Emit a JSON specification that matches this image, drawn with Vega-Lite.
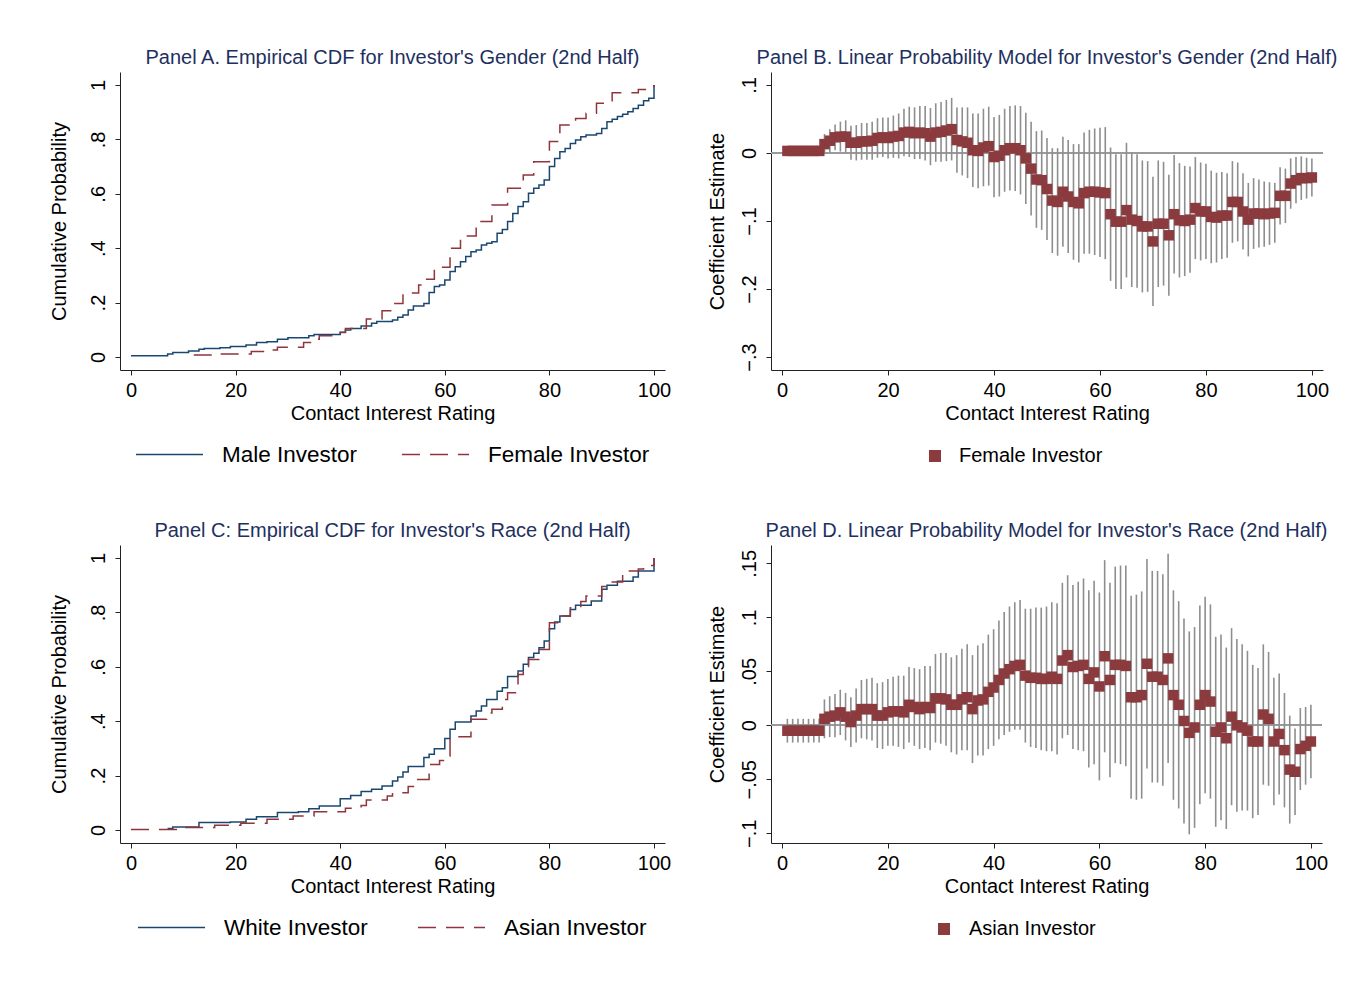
{
 "$schema": "https://vega.github.io/schema/vega-lite/v6.json",
 "background": "white",
 "padding": {"left": 48, "top": 48, "right": 5, "bottom": 5},
 "config": {
  "font": "Liberation Sans",
  "view": {"stroke": null},
  "axis": {"domainColor": "#222222", "tickColor": "#222222", "labelColor": "#000000", "titleColor": "#000000", "labelFontSize": 20, "titleFontSize": 20, "titleFontWeight": "normal", "grid": false, "tickSize": 5, "domainWidth": 1, "tickWidth": 1, "labelFont": "Liberation Sans", "titleFont": "Liberation Sans"},
  "title": {"fontSize": 20, "fontWeight": "normal", "color": "#1E3060", "font": "Liberation Sans", "anchor": "middle", "offset": 4},
  "legend": {"labelFontSize": 20, "labelColor": "#000000", "padding": 0, "labelFont": "Liberation Sans", "labelLimit": 0}
 },
 "bounds": "flush",
 "spacing": {"row": 175, "column": 106},
 "columns": 2,
 "resolve": {"scale": {"color": "independent", "strokeDash": "independent"}, "legend": {"color": "independent", "strokeDash": "independent"}},
 "concat": [
  {
   "width": 545, "height": 298,
   "title": {"text": "Panel A. Empirical CDF for Investor's Gender (2nd Half)"},
   "data": {"name": "cdfA"},
   "mark": {"type": "line", "interpolate": "step-after", "strokeWidth": 1.5},
   "encoding": {
    "x": {"field": "x", "type": "quantitative", "scale": {"domain": [-2.1, 102.1], "nice": false, "zero": false}, "axis": {"values": [0, 20, 40, 60, 80, 100], "title": "Contact Interest Rating", "labelPadding": 5, "titlePadding": 3}},
    "y": {"field": "p", "type": "quantitative", "scale": {"domain": [-0.048, 1.048], "nice": false, "zero": false}, "axis": {"values": [0, 0.2, 0.4, 0.6, 0.8, 1], "labelExpr": "replace(format(datum.value, '.2~f'), '0.', '.')", "labelAngle": 270, "labelAlign": "center", "labelBaseline": "bottom", "labelPadding": 7, "title": "Cumulative Probability", "titlePadding": 19}},
    "color": {"field": "g", "type": "nominal", "scale": {"domain": ["Male Investor", "Female Investor"], "range": ["#1A476F", "#90353B"]}, "legend": {"orient": "none", "legendX": 15, "legendY": 348, "direction": "horizontal", "title": null, "symbolType": "stroke", "symbolSize": 4489, "symbolStrokeWidth": 1.5, "labelFontSize": 22.5, "labelOffset": 18, "columnPadding": 41}},
    "strokeDash": {"field": "g", "type": "nominal", "scale": {"domain": ["Male Investor", "Female Investor"], "range": [[1, 0], [18, 10]]}, "legend": {"orient": "none", "legendX": 15, "legendY": 348, "direction": "horizontal", "title": null, "symbolType": "stroke", "symbolSize": 4489, "symbolStrokeWidth": 1.5, "labelFontSize": 22.5, "labelOffset": 18, "columnPadding": 41}}
   }
  },
  {
   "width": 552, "height": 298,
   "title": {"text": "Panel B. Linear Probability Model for Investor's Gender (2nd Half)"},
   "data": {"name": "lpmB"},
   "encoding": {
    "x": {"field": "x", "type": "quantitative", "scale": {"domain": [-2.1, 102.1], "nice": false, "zero": false}, "axis": {"values": [0, 20, 40, 60, 80, 100], "title": "Contact Interest Rating", "labelPadding": 5, "titlePadding": 3}}
   },
   "layer": [
    {"mark": {"type": "rule", "color": "#9A9A9A", "strokeWidth": 1.5},
     "encoding": {"y": {"datum": 0, "type": "quantitative", "scale": {"domain": [-0.319, 0.119], "nice": false, "zero": false}, "axis": {"values": [-0.3, -0.2, -0.1, 0, 0.1], "labelExpr": "replace(format(datum.value, '.2~f'), '0.', '.')", "labelAngle": 270, "labelAlign": "center", "labelBaseline": "bottom", "labelPadding": 7, "title": "Coefficient Estimate", "titlePadding": 12}}, "x": {"value": 0}, "x2": {"value": 552}}},
    {"mark": {"type": "rule", "color": "#8E8E8E", "strokeWidth": 1.6},
     "encoding": {"y": {"field": "lo", "type": "quantitative", "scale": {"domain": [-0.319, 0.119], "nice": false, "zero": false}, "axis": {"values": [-0.3, -0.2, -0.1, 0, 0.1], "labelExpr": "replace(format(datum.value, '.2~f'), '0.', '.')", "labelAngle": 270, "labelAlign": "center", "labelBaseline": "bottom", "labelPadding": 7, "title": "Coefficient Estimate", "titlePadding": 12}}, "y2": {"field": "hi"}}},
    {"mark": {"type": "point", "shape": "square", "filled": true, "size": 110, "opacity": 1},
     "encoding": {"y": {"field": "c", "type": "quantitative", "scale": {"domain": [-0.319, 0.119], "nice": false, "zero": false}, "axis": {"values": [-0.3, -0.2, -0.1, 0, 0.1], "labelExpr": "replace(format(datum.value, '.2~f'), '0.', '.')", "labelAngle": 270, "labelAlign": "center", "labelBaseline": "bottom", "labelPadding": 7, "title": "Coefficient Estimate", "titlePadding": 12}},
      "color": {"datum": "Female Investor", "type": "nominal", "scale": {"range": ["#8B3A3E"]}, "legend": {"orient": "none", "legendX": 154, "legendY": 374, "direction": "horizontal", "title": null, "symbolType": "square", "symbolSize": 144, "symbolOpacity": 1, "labelFontSize": 20, "labelOffset": 14}}}}
   ]
  },
  {
   "width": 545, "height": 298,
   "title": {"text": "Panel C: Empirical CDF for Investor's Race (2nd Half)"},
   "data": {"name": "cdfC"},
   "mark": {"type": "line", "interpolate": "step-after", "strokeWidth": 1.5},
   "encoding": {
    "x": {"field": "x", "type": "quantitative", "scale": {"domain": [-2.1, 102.1], "nice": false, "zero": false}, "axis": {"values": [0, 20, 40, 60, 80, 100], "title": "Contact Interest Rating", "labelPadding": 5, "titlePadding": 3}},
    "y": {"field": "p", "type": "quantitative", "scale": {"domain": [-0.048, 1.048], "nice": false, "zero": false}, "axis": {"values": [0, 0.2, 0.4, 0.6, 0.8, 1], "labelExpr": "replace(format(datum.value, '.2~f'), '0.', '.')", "labelAngle": 270, "labelAlign": "center", "labelBaseline": "bottom", "labelPadding": 7, "title": "Cumulative Probability", "titlePadding": 19}},
    "color": {"field": "g", "type": "nominal", "scale": {"domain": ["White Investor", "Asian Investor"], "range": ["#1A476F", "#90353B"]}, "legend": {"orient": "none", "legendX": 17, "legendY": 348, "direction": "horizontal", "title": null, "symbolType": "stroke", "symbolSize": 4489, "symbolStrokeWidth": 1.5, "labelFontSize": 22.5, "labelOffset": 18, "columnPadding": 47}},
    "strokeDash": {"field": "g", "type": "nominal", "scale": {"domain": ["White Investor", "Asian Investor"], "range": [[1, 0], [18, 10]]}, "legend": {"orient": "none", "legendX": 17, "legendY": 348, "direction": "horizontal", "title": null, "symbolType": "stroke", "symbolSize": 4489, "symbolStrokeWidth": 1.5, "labelFontSize": 22.5, "labelOffset": 18, "columnPadding": 47}}
   }
  },
  {
   "width": 551, "height": 298,
   "title": {"text": "Panel D. Linear Probability Model for Investor's Race (2nd Half)"},
   "data": {"name": "lpmD"},
   "encoding": {
    "x": {"field": "x", "type": "quantitative", "scale": {"domain": [-2.1, 102.1], "nice": false, "zero": false}, "axis": {"values": [0, 20, 40, 60, 80, 100], "title": "Contact Interest Rating", "labelPadding": 5, "titlePadding": 3}}
   },
   "layer": [
    {"mark": {"type": "rule", "color": "#9A9A9A", "strokeWidth": 1.5},
     "encoding": {"y": {"datum": 0, "type": "quantitative", "scale": {"domain": [-0.109, 0.167], "nice": false, "zero": false}, "axis": {"values": [-0.1, -0.05, 0, 0.05, 0.1, 0.15], "labelExpr": "replace(format(datum.value, '.2~f'), '0.', '.')", "labelAngle": 270, "labelAlign": "center", "labelBaseline": "bottom", "labelPadding": 7, "title": "Coefficient Estimate", "titlePadding": 12}}, "x": {"value": 0}, "x2": {"value": 551}}},
    {"mark": {"type": "rule", "color": "#8E8E8E", "strokeWidth": 1.6},
     "encoding": {"y": {"field": "lo", "type": "quantitative", "scale": {"domain": [-0.109, 0.167], "nice": false, "zero": false}, "axis": {"values": [-0.1, -0.05, 0, 0.05, 0.1, 0.15], "labelExpr": "replace(format(datum.value, '.2~f'), '0.', '.')", "labelAngle": 270, "labelAlign": "center", "labelBaseline": "bottom", "labelPadding": 7, "title": "Coefficient Estimate", "titlePadding": 12}}, "y2": {"field": "hi"}}},
    {"mark": {"type": "point", "shape": "square", "filled": true, "size": 110, "opacity": 1},
     "encoding": {"y": {"field": "c", "type": "quantitative", "scale": {"domain": [-0.109, 0.167], "nice": false, "zero": false}, "axis": {"values": [-0.1, -0.05, 0, 0.05, 0.1, 0.15], "labelExpr": "replace(format(datum.value, '.2~f'), '0.', '.')", "labelAngle": 270, "labelAlign": "center", "labelBaseline": "bottom", "labelPadding": 7, "title": "Coefficient Estimate", "titlePadding": 12}},
      "color": {"datum": "Asian Investor", "type": "nominal", "scale": {"range": ["#8B3A3E"]}, "legend": {"orient": "none", "legendX": 163, "legendY": 374, "direction": "horizontal", "title": null, "symbolType": "square", "symbolSize": 144, "symbolOpacity": 1, "labelFontSize": 20, "labelOffset": 15}}}}
   ]
  }
 ],
 "datasets": {
  "cdfA": [
   {"x": 0, "p": 0.004, "g": "Male Investor"}, {"x": 7, "p": 0.011, "g": "Male Investor"}, {"x": 8, "p": 0.016, "g": "Male Investor"}, {"x": 11, "p": 0.022, "g": "Male Investor"}, {"x": 13, "p": 0.028, "g": "Male Investor"}, {"x": 14, "p": 0.031, "g": "Male Investor"}, {"x": 17, "p": 0.034, "g": "Male Investor"}, {"x": 19, "p": 0.038, "g": "Male Investor"}, {"x": 22, "p": 0.044, "g": "Male Investor"}, {"x": 24, "p": 0.053, "g": "Male Investor"}, {"x": 26, "p": 0.056, "g": "Male Investor"}, {"x": 28, "p": 0.065, "g": "Male Investor"}, {"x": 30, "p": 0.071, "g": "Male Investor"}, {"x": 34, "p": 0.078, "g": "Male Investor"}, {"x": 35, "p": 0.083, "g": "Male Investor"}, {"x": 40, "p": 0.091, "g": "Male Investor"}, {"x": 41, "p": 0.099, "g": "Male Investor"}, {"x": 42, "p": 0.105, "g": "Male Investor"}, {"x": 44, "p": 0.114, "g": "Male Investor"}, {"x": 46, "p": 0.124, "g": "Male Investor"}, {"x": 47, "p": 0.13, "g": "Male Investor"}, {"x": 50, "p": 0.136, "g": "Male Investor"}, {"x": 51, "p": 0.146, "g": "Male Investor"}, {"x": 52, "p": 0.154, "g": "Male Investor"}, {"x": 53, "p": 0.173, "g": "Male Investor"}, {"x": 54, "p": 0.187, "g": "Male Investor"}, {"x": 56, "p": 0.197, "g": "Male Investor"}, {"x": 57, "p": 0.237, "g": "Male Investor"}, {"x": 58, "p": 0.259, "g": "Male Investor"}, {"x": 59, "p": 0.265, "g": "Male Investor"}, {"x": 60, "p": 0.283, "g": "Male Investor"}, {"x": 61, "p": 0.314, "g": "Male Investor"}, {"x": 62, "p": 0.332, "g": "Male Investor"}, {"x": 63, "p": 0.35, "g": "Male Investor"}, {"x": 64, "p": 0.369, "g": "Male Investor"}, {"x": 65, "p": 0.387, "g": "Male Investor"}, {"x": 66, "p": 0.393, "g": "Male Investor"}, {"x": 67, "p": 0.412, "g": "Male Investor"}, {"x": 68, "p": 0.418, "g": "Male Investor"}, {"x": 69, "p": 0.424, "g": "Male Investor"}, {"x": 70, "p": 0.455, "g": "Male Investor"}, {"x": 71, "p": 0.469, "g": "Male Investor"}, {"x": 72, "p": 0.498, "g": "Male Investor"}, {"x": 73, "p": 0.528, "g": "Male Investor"}, {"x": 74, "p": 0.553, "g": "Male Investor"}, {"x": 75, "p": 0.571, "g": "Male Investor"}, {"x": 76, "p": 0.602, "g": "Male Investor"}, {"x": 77, "p": 0.62, "g": "Male Investor"}, {"x": 78, "p": 0.632, "g": "Male Investor"}, {"x": 79, "p": 0.651, "g": "Male Investor"}, {"x": 80, "p": 0.7, "g": "Male Investor"}, {"x": 81, "p": 0.73, "g": "Male Investor"}, {"x": 82, "p": 0.755, "g": "Male Investor"}, {"x": 83, "p": 0.767, "g": "Male Investor"}, {"x": 84, "p": 0.785, "g": "Male Investor"}, {"x": 85, "p": 0.798, "g": "Male Investor"}, {"x": 86, "p": 0.81, "g": "Male Investor"}, {"x": 87, "p": 0.816, "g": "Male Investor"}, {"x": 89, "p": 0.822, "g": "Male Investor"}, {"x": 90, "p": 0.84, "g": "Male Investor"}, {"x": 91, "p": 0.865, "g": "Male Investor"}, {"x": 92, "p": 0.874, "g": "Male Investor"}, {"x": 93, "p": 0.884, "g": "Male Investor"}, {"x": 94, "p": 0.893, "g": "Male Investor"}, {"x": 95, "p": 0.902, "g": "Male Investor"}, {"x": 96, "p": 0.914, "g": "Male Investor"}, {"x": 97, "p": 0.926, "g": "Male Investor"}, {"x": 98, "p": 0.942, "g": "Male Investor"}, {"x": 99, "p": 0.951, "g": "Male Investor"}, {"x": 100, "p": 1.0, "g": "Male Investor"},
   {"x": 12, "p": 0.007, "g": "Female Investor"}, {"x": 17, "p": 0.011, "g": "Female Investor"}, {"x": 23, "p": 0.02, "g": "Female Investor"}, {"x": 26, "p": 0.026, "g": "Female Investor"}, {"x": 28, "p": 0.036, "g": "Female Investor"}, {"x": 33, "p": 0.053, "g": "Female Investor"}, {"x": 35, "p": 0.065, "g": "Female Investor"}, {"x": 36, "p": 0.078, "g": "Female Investor"}, {"x": 40, "p": 0.09, "g": "Female Investor"}, {"x": 41, "p": 0.105, "g": "Female Investor"}, {"x": 45, "p": 0.14, "g": "Female Investor"}, {"x": 48, "p": 0.17, "g": "Female Investor"}, {"x": 50, "p": 0.197, "g": "Female Investor"}, {"x": 52, "p": 0.235, "g": "Female Investor"}, {"x": 55, "p": 0.265, "g": "Female Investor"}, {"x": 56, "p": 0.286, "g": "Female Investor"}, {"x": 58, "p": 0.33, "g": "Female Investor"}, {"x": 61, "p": 0.4, "g": "Female Investor"}, {"x": 63, "p": 0.445, "g": "Female Investor"}, {"x": 66, "p": 0.498, "g": "Female Investor"}, {"x": 69, "p": 0.559, "g": "Female Investor"}, {"x": 72, "p": 0.62, "g": "Female Investor"}, {"x": 75, "p": 0.669, "g": "Female Investor"}, {"x": 77, "p": 0.718, "g": "Female Investor"}, {"x": 80, "p": 0.792, "g": "Female Investor"}, {"x": 82, "p": 0.853, "g": "Female Investor"}, {"x": 85, "p": 0.877, "g": "Female Investor"}, {"x": 87, "p": 0.896, "g": "Female Investor"}, {"x": 89, "p": 0.933, "g": "Female Investor"}, {"x": 92, "p": 0.972, "g": "Female Investor"}, {"x": 97, "p": 0.984, "g": "Female Investor"}, {"x": 100, "p": 1.0, "g": "Female Investor"}
  ],
  "cdfC": [
   {"x": 7, "p": 0.005, "g": "White Investor"}, {"x": 8, "p": 0.011, "g": "White Investor"}, {"x": 13, "p": 0.027, "g": "White Investor"}, {"x": 19, "p": 0.029, "g": "White Investor"}, {"x": 22, "p": 0.039, "g": "White Investor"}, {"x": 24, "p": 0.049, "g": "White Investor"}, {"x": 28, "p": 0.064, "g": "White Investor"}, {"x": 32, "p": 0.067, "g": "White Investor"}, {"x": 34, "p": 0.078, "g": "White Investor"}, {"x": 36, "p": 0.088, "g": "White Investor"}, {"x": 40, "p": 0.115, "g": "White Investor"}, {"x": 42, "p": 0.127, "g": "White Investor"}, {"x": 44, "p": 0.141, "g": "White Investor"}, {"x": 46, "p": 0.15, "g": "White Investor"}, {"x": 48, "p": 0.162, "g": "White Investor"}, {"x": 50, "p": 0.18, "g": "White Investor"}, {"x": 51, "p": 0.195, "g": "White Investor"}, {"x": 52, "p": 0.213, "g": "White Investor"}, {"x": 53, "p": 0.233, "g": "White Investor"}, {"x": 56, "p": 0.266, "g": "White Investor"}, {"x": 57, "p": 0.278, "g": "White Investor"}, {"x": 58, "p": 0.299, "g": "White Investor"}, {"x": 60, "p": 0.336, "g": "White Investor"}, {"x": 61, "p": 0.37, "g": "White Investor"}, {"x": 62, "p": 0.397, "g": "White Investor"}, {"x": 65, "p": 0.419, "g": "White Investor"}, {"x": 66, "p": 0.4375, "g": "White Investor"}, {"x": 67, "p": 0.456, "g": "White Investor"}, {"x": 68, "p": 0.48, "g": "White Investor"}, {"x": 70, "p": 0.51, "g": "White Investor"}, {"x": 71, "p": 0.523, "g": "White Investor"}, {"x": 72, "p": 0.564, "g": "White Investor"}, {"x": 74, "p": 0.585, "g": "White Investor"}, {"x": 75, "p": 0.609, "g": "White Investor"}, {"x": 76, "p": 0.634, "g": "White Investor"}, {"x": 77, "p": 0.65, "g": "White Investor"}, {"x": 78, "p": 0.67, "g": "White Investor"}, {"x": 79, "p": 0.695, "g": "White Investor"}, {"x": 80, "p": 0.74, "g": "White Investor"}, {"x": 81, "p": 0.765, "g": "White Investor"}, {"x": 82, "p": 0.787, "g": "White Investor"}, {"x": 84, "p": 0.811, "g": "White Investor"}, {"x": 85, "p": 0.826, "g": "White Investor"}, {"x": 88, "p": 0.842, "g": "White Investor"}, {"x": 90, "p": 0.885, "g": "White Investor"}, {"x": 91, "p": 0.9, "g": "White Investor"}, {"x": 93, "p": 0.915, "g": "White Investor"}, {"x": 96, "p": 0.93, "g": "White Investor"}, {"x": 97, "p": 0.952, "g": "White Investor"}, {"x": 100, "p": 1.0, "g": "White Investor"},
   {"x": 0, "p": 0.002, "g": "Asian Investor"}, {"x": 10, "p": 0.009, "g": "Asian Investor"}, {"x": 16, "p": 0.017, "g": "Asian Investor"}, {"x": 21, "p": 0.025, "g": "Asian Investor"}, {"x": 26, "p": 0.039, "g": "Asian Investor"}, {"x": 31, "p": 0.051, "g": "Asian Investor"}, {"x": 35, "p": 0.067, "g": "Asian Investor"}, {"x": 41, "p": 0.08, "g": "Asian Investor"}, {"x": 44, "p": 0.09, "g": "Asian Investor"}, {"x": 45, "p": 0.11, "g": "Asian Investor"}, {"x": 49, "p": 0.125, "g": "Asian Investor"}, {"x": 50, "p": 0.137, "g": "Asian Investor"}, {"x": 53, "p": 0.16, "g": "Asian Investor"}, {"x": 54, "p": 0.186, "g": "Asian Investor"}, {"x": 57, "p": 0.241, "g": "Asian Investor"}, {"x": 59, "p": 0.255, "g": "Asian Investor"}, {"x": 60, "p": 0.272, "g": "Asian Investor"}, {"x": 61, "p": 0.343, "g": "Asian Investor"}, {"x": 65, "p": 0.407, "g": "Asian Investor"}, {"x": 68, "p": 0.43, "g": "Asian Investor"}, {"x": 69, "p": 0.444, "g": "Asian Investor"}, {"x": 71, "p": 0.48, "g": "Asian Investor"}, {"x": 72, "p": 0.505, "g": "Asian Investor"}, {"x": 74, "p": 0.572, "g": "Asian Investor"}, {"x": 75, "p": 0.6, "g": "Asian Investor"}, {"x": 76, "p": 0.627, "g": "Asian Investor"}, {"x": 78, "p": 0.664, "g": "Asian Investor"}, {"x": 80, "p": 0.762, "g": "Asian Investor"}, {"x": 82, "p": 0.787, "g": "Asian Investor"}, {"x": 84, "p": 0.817, "g": "Asian Investor"}, {"x": 86, "p": 0.84, "g": "Asian Investor"}, {"x": 87, "p": 0.86, "g": "Asian Investor"}, {"x": 90, "p": 0.895, "g": "Asian Investor"}, {"x": 91, "p": 0.912, "g": "Asian Investor"}, {"x": 94, "p": 0.952, "g": "Asian Investor"}, {"x": 97, "p": 0.96, "g": "Asian Investor"}, {"x": 98, "p": 0.973, "g": "Asian Investor"}, {"x": 100, "p": 1.0, "g": "Asian Investor"}
  ],
  "lpmB": [
   {"x": 1, "c": 0.003, "lo": -0.003, "hi": 0.009}, {"x": 2, "c": 0.003, "lo": -0.003, "hi": 0.009}, {"x": 3, "c": 0.003, "lo": -0.003, "hi": 0.009}, {"x": 4, "c": 0.003, "lo": -0.003, "hi": 0.009}, {"x": 5, "c": 0.003, "lo": -0.003, "hi": 0.009}, {"x": 6, "c": 0.003, "lo": -0.003, "hi": 0.009}, {"x": 7, "c": 0.003, "lo": -0.003, "hi": 0.009},
   {"x": 8, "c": 0.013, "lo": -0.002, "hi": 0.028}, {"x": 9, "c": 0.018, "lo": 0.001, "hi": 0.035}, {"x": 10, "c": 0.023, "lo": 0.004, "hi": 0.042}, {"x": 11, "c": 0.024, "lo": 0.002, "hi": 0.046}, {"x": 12, "c": 0.024, "lo": 0.0, "hi": 0.048}, {"x": 13, "c": 0.015, "lo": -0.01, "hi": 0.04}, {"x": 14, "c": 0.015, "lo": -0.011, "hi": 0.041}, {"x": 15, "c": 0.017, "lo": -0.01, "hi": 0.044}, {"x": 16, "c": 0.017, "lo": -0.01, "hi": 0.044}, {"x": 17, "c": 0.018, "lo": -0.01, "hi": 0.046}, {"x": 18, "c": 0.022, "lo": -0.007, "hi": 0.051}, {"x": 19, "c": 0.023, "lo": -0.006, "hi": 0.052}, {"x": 20, "c": 0.022, "lo": -0.008, "hi": 0.052},
   {"x": 21, "c": 0.024, "lo": -0.007, "hi": 0.055}, {"x": 22, "c": 0.025, "lo": -0.008, "hi": 0.058}, {"x": 23, "c": 0.03, "lo": -0.005, "hi": 0.065}, {"x": 24, "c": 0.031, "lo": -0.006, "hi": 0.068}, {"x": 25, "c": 0.029, "lo": -0.009, "hi": 0.067}, {"x": 26, "c": 0.03, "lo": -0.009, "hi": 0.069}, {"x": 27, "c": 0.029, "lo": -0.011, "hi": 0.069}, {"x": 28, "c": 0.024, "lo": -0.018, "hi": 0.066}, {"x": 29, "c": 0.03, "lo": -0.013, "hi": 0.073}, {"x": 30, "c": 0.031, "lo": -0.013, "hi": 0.075},
   {"x": 31, "c": 0.033, "lo": -0.012, "hi": 0.078}, {"x": 32, "c": 0.035, "lo": -0.011, "hi": 0.081}, {"x": 33, "c": 0.019, "lo": -0.029, "hi": 0.067}, {"x": 34, "c": 0.017, "lo": -0.033, "hi": 0.067}, {"x": 35, "c": 0.015, "lo": -0.037, "hi": 0.067}, {"x": 36, "c": 0.004, "lo": -0.05, "hi": 0.058}, {"x": 37, "c": 0.003, "lo": -0.052, "hi": 0.058}, {"x": 38, "c": 0.008, "lo": -0.049, "hi": 0.065}, {"x": 39, "c": 0.01, "lo": -0.048, "hi": 0.068}, {"x": 40, "c": -0.006, "lo": -0.065, "hi": 0.053},
   {"x": 41, "c": -0.004, "lo": -0.064, "hi": 0.056}, {"x": 42, "c": 0.004, "lo": -0.057, "hi": 0.065}, {"x": 43, "c": 0.007, "lo": -0.055, "hi": 0.069}, {"x": 44, "c": 0.007, "lo": -0.056, "hi": 0.07}, {"x": 45, "c": 0.004, "lo": -0.061, "hi": 0.069}, {"x": 46, "c": -0.008, "lo": -0.075, "hi": 0.059}, {"x": 47, "c": -0.023, "lo": -0.092, "hi": 0.046}, {"x": 48, "c": -0.039, "lo": -0.11, "hi": 0.032}, {"x": 49, "c": -0.04, "lo": -0.113, "hi": 0.033}, {"x": 50, "c": -0.053, "lo": -0.128, "hi": 0.022},
   {"x": 51, "c": -0.07, "lo": -0.147, "hi": 0.007}, {"x": 52, "c": -0.072, "lo": -0.151, "hi": 0.007}, {"x": 53, "c": -0.057, "lo": -0.138, "hi": 0.024}, {"x": 54, "c": -0.064, "lo": -0.147, "hi": 0.019}, {"x": 55, "c": -0.072, "lo": -0.157, "hi": 0.013}, {"x": 56, "c": -0.074, "lo": -0.161, "hi": 0.013}, {"x": 57, "c": -0.059, "lo": -0.148, "hi": 0.03}, {"x": 58, "c": -0.057, "lo": -0.148, "hi": 0.034}, {"x": 59, "c": -0.057, "lo": -0.15, "hi": 0.036}, {"x": 60, "c": -0.058, "lo": -0.153, "hi": 0.037},
   {"x": 61, "c": -0.059, "lo": -0.156, "hi": 0.038}, {"x": 62, "c": -0.09, "lo": -0.188, "hi": 0.008}, {"x": 63, "c": -0.101, "lo": -0.2, "hi": -0.002}, {"x": 64, "c": -0.101, "lo": -0.2, "hi": -0.002}, {"x": 65, "c": -0.084, "lo": -0.183, "hi": 0.015}, {"x": 66, "c": -0.098, "lo": -0.197, "hi": 0.001}, {"x": 67, "c": -0.1, "lo": -0.198, "hi": -0.002}, {"x": 68, "c": -0.108, "lo": -0.205, "hi": -0.011}, {"x": 69, "c": -0.108, "lo": -0.204, "hi": -0.012}, {"x": 70, "c": -0.13, "lo": -0.225, "hi": -0.035},
   {"x": 71, "c": -0.104, "lo": -0.197, "hi": -0.011}, {"x": 72, "c": -0.104, "lo": -0.195, "hi": -0.013}, {"x": 73, "c": -0.121, "lo": -0.21, "hi": -0.032}, {"x": 74, "c": -0.09, "lo": -0.177, "hi": -0.003}, {"x": 75, "c": -0.099, "lo": -0.183, "hi": -0.015}, {"x": 76, "c": -0.1, "lo": -0.181, "hi": -0.019}, {"x": 77, "c": -0.098, "lo": -0.176, "hi": -0.02}, {"x": 78, "c": -0.081, "lo": -0.156, "hi": -0.006}, {"x": 79, "c": -0.086, "lo": -0.158, "hi": -0.014}, {"x": 80, "c": -0.086, "lo": -0.156, "hi": -0.016},
   {"x": 81, "c": -0.094, "lo": -0.162, "hi": -0.026}, {"x": 82, "c": -0.095, "lo": -0.161, "hi": -0.029}, {"x": 83, "c": -0.092, "lo": -0.156, "hi": -0.028}, {"x": 84, "c": -0.092, "lo": -0.154, "hi": -0.03}, {"x": 85, "c": -0.072, "lo": -0.132, "hi": -0.012}, {"x": 86, "c": -0.072, "lo": -0.13, "hi": -0.014}, {"x": 87, "c": -0.086, "lo": -0.142, "hi": -0.03}, {"x": 88, "c": -0.098, "lo": -0.152, "hi": -0.044}, {"x": 89, "c": -0.089, "lo": -0.141, "hi": -0.037}, {"x": 90, "c": -0.089, "lo": -0.139, "hi": -0.039},
   {"x": 91, "c": -0.09, "lo": -0.138, "hi": -0.042}, {"x": 92, "c": -0.089, "lo": -0.135, "hi": -0.043}, {"x": 93, "c": -0.088, "lo": -0.132, "hi": -0.044}, {"x": 94, "c": -0.063, "lo": -0.105, "hi": -0.021}, {"x": 95, "c": -0.063, "lo": -0.103, "hi": -0.023}, {"x": 96, "c": -0.045, "lo": -0.082, "hi": -0.008}, {"x": 97, "c": -0.04, "lo": -0.074, "hi": -0.006}, {"x": 98, "c": -0.037, "lo": -0.069, "hi": -0.005}, {"x": 99, "c": -0.037, "lo": -0.067, "hi": -0.007}, {"x": 100, "c": -0.036, "lo": -0.064, "hi": -0.008}
  ],
  "lpmD": [
   {"x": 1, "c": -0.005, "lo": -0.016, "hi": 0.006}, {"x": 2, "c": -0.005, "lo": -0.016, "hi": 0.006}, {"x": 3, "c": -0.005, "lo": -0.016, "hi": 0.006}, {"x": 4, "c": -0.005, "lo": -0.016, "hi": 0.006}, {"x": 5, "c": -0.005, "lo": -0.016, "hi": 0.006}, {"x": 6, "c": -0.005, "lo": -0.016, "hi": 0.006}, {"x": 7, "c": -0.005, "lo": -0.016, "hi": 0.006},
   {"x": 8, "c": 0.006, "lo": -0.012, "hi": 0.024}, {"x": 9, "c": 0.008, "lo": -0.011, "hi": 0.027}, {"x": 10, "c": 0.009, "lo": -0.011, "hi": 0.029}, {"x": 11, "c": 0.012, "lo": -0.009, "hi": 0.033}, {"x": 12, "c": 0.008, "lo": -0.014, "hi": 0.03}, {"x": 13, "c": 0.003, "lo": -0.02, "hi": 0.026}, {"x": 14, "c": 0.009, "lo": -0.016, "hi": 0.034}, {"x": 15, "c": 0.015, "lo": -0.012, "hi": 0.042}, {"x": 16, "c": 0.015, "lo": -0.013, "hi": 0.043}, {"x": 17, "c": 0.015, "lo": -0.014, "hi": 0.044}, {"x": 18, "c": 0.009, "lo": -0.021, "hi": 0.039}, {"x": 19, "c": 0.009, "lo": -0.022, "hi": 0.04}, {"x": 20, "c": 0.012, "lo": -0.019, "hi": 0.043},
   {"x": 21, "c": 0.013, "lo": -0.019, "hi": 0.045}, {"x": 22, "c": 0.013, "lo": -0.02, "hi": 0.046}, {"x": 23, "c": 0.012, "lo": -0.022, "hi": 0.046}, {"x": 24, "c": 0.019, "lo": -0.016, "hi": 0.054}, {"x": 25, "c": 0.017, "lo": -0.019, "hi": 0.053}, {"x": 26, "c": 0.015, "lo": -0.022, "hi": 0.052}, {"x": 27, "c": 0.017, "lo": -0.021, "hi": 0.055}, {"x": 28, "c": 0.016, "lo": -0.023, "hi": 0.055}, {"x": 29, "c": 0.025, "lo": -0.016, "hi": 0.066}, {"x": 30, "c": 0.025, "lo": -0.017, "hi": 0.067},
   {"x": 31, "c": 0.024, "lo": -0.019, "hi": 0.067}, {"x": 32, "c": 0.019, "lo": -0.025, "hi": 0.063}, {"x": 33, "c": 0.019, "lo": -0.027, "hi": 0.065}, {"x": 34, "c": 0.024, "lo": -0.023, "hi": 0.071}, {"x": 35, "c": 0.026, "lo": -0.023, "hi": 0.075}, {"x": 36, "c": 0.015, "lo": -0.035, "hi": 0.065}, {"x": 37, "c": 0.023, "lo": -0.028, "hi": 0.074}, {"x": 38, "c": 0.024, "lo": -0.028, "hi": 0.076}, {"x": 39, "c": 0.031, "lo": -0.022, "hi": 0.084}, {"x": 40, "c": 0.035, "lo": -0.019, "hi": 0.089},
   {"x": 41, "c": 0.042, "lo": -0.013, "hi": 0.097}, {"x": 42, "c": 0.048, "lo": -0.009, "hi": 0.105}, {"x": 43, "c": 0.052, "lo": -0.006, "hi": 0.11}, {"x": 44, "c": 0.055, "lo": -0.004, "hi": 0.114}, {"x": 45, "c": 0.056, "lo": -0.004, "hi": 0.116}, {"x": 46, "c": 0.046, "lo": -0.016, "hi": 0.108}, {"x": 47, "c": 0.044, "lo": -0.02, "hi": 0.108}, {"x": 48, "c": 0.044, "lo": -0.021, "hi": 0.109}, {"x": 49, "c": 0.043, "lo": -0.023, "hi": 0.109}, {"x": 50, "c": 0.043, "lo": -0.024, "hi": 0.11},
   {"x": 51, "c": 0.045, "lo": -0.024, "hi": 0.114}, {"x": 52, "c": 0.043, "lo": -0.027, "hi": 0.113}, {"x": 53, "c": 0.06, "lo": -0.012, "hi": 0.132}, {"x": 54, "c": 0.065, "lo": -0.009, "hi": 0.139}, {"x": 55, "c": 0.054, "lo": -0.022, "hi": 0.13}, {"x": 56, "c": 0.055, "lo": -0.023, "hi": 0.133}, {"x": 57, "c": 0.056, "lo": -0.024, "hi": 0.136}, {"x": 58, "c": 0.043, "lo": -0.039, "hi": 0.125}, {"x": 59, "c": 0.049, "lo": -0.036, "hi": 0.134}, {"x": 60, "c": 0.036, "lo": -0.051, "hi": 0.123},
   {"x": 61, "c": 0.064, "lo": -0.025, "hi": 0.153}, {"x": 62, "c": 0.042, "lo": -0.048, "hi": 0.132}, {"x": 63, "c": 0.056, "lo": -0.035, "hi": 0.147}, {"x": 64, "c": 0.056, "lo": -0.036, "hi": 0.148}, {"x": 65, "c": 0.055, "lo": -0.038, "hi": 0.148}, {"x": 66, "c": 0.026, "lo": -0.068, "hi": 0.12}, {"x": 67, "c": 0.026, "lo": -0.069, "hi": 0.121}, {"x": 68, "c": 0.028, "lo": -0.068, "hi": 0.124}, {"x": 69, "c": 0.057, "lo": -0.04, "hi": 0.154}, {"x": 70, "c": 0.045, "lo": -0.053, "hi": 0.143},
   {"x": 71, "c": 0.045, "lo": -0.053, "hi": 0.143}, {"x": 72, "c": 0.042, "lo": -0.056, "hi": 0.14}, {"x": 73, "c": 0.062, "lo": -0.035, "hi": 0.159}, {"x": 74, "c": 0.028, "lo": -0.069, "hi": 0.125}, {"x": 75, "c": 0.019, "lo": -0.077, "hi": 0.115}, {"x": 76, "c": 0.004, "lo": -0.091, "hi": 0.099}, {"x": 77, "c": -0.007, "lo": -0.101, "hi": 0.087}, {"x": 78, "c": -0.002, "lo": -0.095, "hi": 0.091}, {"x": 79, "c": 0.019, "lo": -0.073, "hi": 0.111}, {"x": 80, "c": 0.028, "lo": -0.063, "hi": 0.119},
   {"x": 81, "c": 0.022, "lo": -0.068, "hi": 0.112}, {"x": 82, "c": -0.006, "lo": -0.094, "hi": 0.082}, {"x": 83, "c": -0.002, "lo": -0.088, "hi": 0.084}, {"x": 84, "c": -0.012, "lo": -0.096, "hi": 0.072}, {"x": 85, "c": 0.008, "lo": -0.074, "hi": 0.09}, {"x": 86, "c": 0.0, "lo": -0.08, "hi": 0.08}, {"x": 87, "c": -0.002, "lo": -0.079, "hi": 0.075}, {"x": 88, "c": -0.005, "lo": -0.079, "hi": 0.069}, {"x": 89, "c": -0.015, "lo": -0.086, "hi": 0.056}, {"x": 90, "c": -0.015, "lo": -0.083, "hi": 0.053},
   {"x": 91, "c": 0.01, "lo": -0.055, "hi": 0.075}, {"x": 92, "c": 0.006, "lo": -0.056, "hi": 0.068}, {"x": 93, "c": -0.015, "lo": -0.074, "hi": 0.044}, {"x": 94, "c": -0.008, "lo": -0.064, "hi": 0.048}, {"x": 95, "c": -0.023, "lo": -0.076, "hi": 0.03}, {"x": 96, "c": -0.041, "lo": -0.091, "hi": 0.009}, {"x": 97, "c": -0.043, "lo": -0.083, "hi": -0.003}, {"x": 98, "c": -0.022, "lo": -0.06, "hi": 0.016}, {"x": 99, "c": -0.019, "lo": -0.055, "hi": 0.017}, {"x": 100, "c": -0.015, "lo": -0.049, "hi": 0.019}
  ]
 }
}
